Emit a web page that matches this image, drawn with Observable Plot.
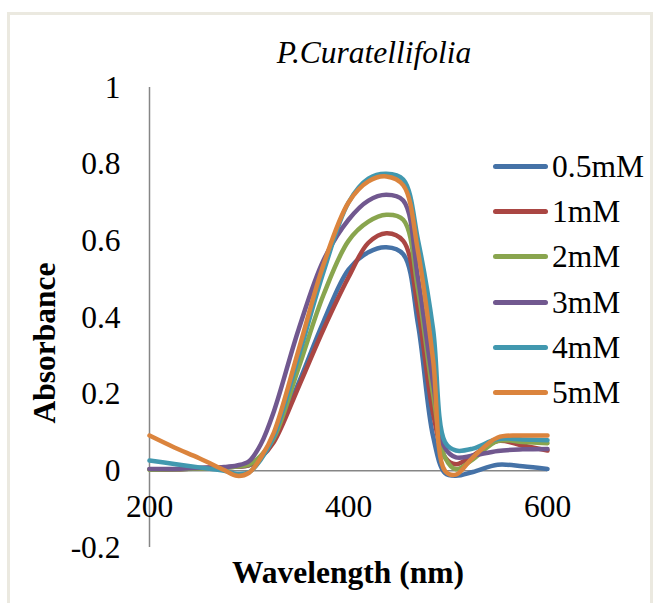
<!DOCTYPE html>
<html>
<head>
<meta charset="utf-8">
<script src="https://cdn.jsdelivr.net/npm/d3@7"></script>
<script src="https://cdn.jsdelivr.net/npm/@observablehq/plot@0.6"></script>
<style>
  html, body { margin: 0; padding: 0; background: #ffffff; }
  #wrap { position: relative; width: 660px; height: 603px; overflow: hidden; font-family: "Liberation Serif", "Times New Roman", serif; color: #000; }
  #frame { position: absolute; left: 7px; top: 12px; width: 646px; height: 596px; border: 3px solid #ebe9e0; box-sizing: border-box; }
  #chart { position: absolute; left: 0; top: 0; }
  .t { position: absolute; font-size: 31.5px; white-space: nowrap; line-height: 1; }
  #title { left: 374px; top: 37px; transform: translateX(-50%); font-style: italic; }
  #xlabel { left: 348px; top: 557px; transform: translateX(-50%); font-weight: bold; }
  #ylabel { left: 45px; top: 343px; transform: translate(-50%, -50%) rotate(-90deg); font-weight: bold; }
  #legend { position: absolute; left: 493px; top: 151px; }
  .row { position: absolute; left: 0; height: 31px; width: 170px; }
  .sw { position: absolute; left: 0; top: 13px; width: 55px; height: 5px; border-radius: 3px; }
  .lb { position: absolute; left: 59px; top: 0; font-size: 31.5px; line-height: 31px; white-space: nowrap; }
</style>
</head>
<body>
<div id="wrap">
  <div id="frame"></div>
  <div id="chart"></div>
  <div id="title" class="t">P.Curatellifolia</div>
  <div id="xlabel" class="t">Wavelength (nm)</div>
  <div id="ylabel" class="t">Absorbance</div>
  <div id="legend"></div>
</div>
<script>
const seriesNames = ["0.5mM", "1mM", "2mM", "3mM", "4mM", "5mM"];
const seriesColors = ["#4572A7", "#AA4643", "#89A54E", "#71588F", "#4198AF", "#DB843D"];
const wavelengths = [200, 225, 250, 275, 288, 300, 312, 325, 350, 375, 400, 420, 438, 455, 470, 485, 497, 508, 525, 550, 575, 600];

const abs05 = [0.004, 0.004, 0.007, 0.009, 0.011, 0.014, 0.035, 0.08, 0.23, 0.39, 0.525, 0.57, 0.583, 0.565, 0.38, 0.09, -0.006, -0.013, -0.003, 0.016, 0.012, 0.005];
const abs1  = [0.004, 0.004, 0.007, 0.009, 0.011, 0.015, 0.035, 0.075, 0.22, 0.37, 0.505, 0.595, 0.62, 0.60, 0.42, 0.15, 0.035, 0.017, 0.04, 0.078, 0.066, 0.053];
const abs2  = [0.003, 0.004, 0.006, 0.008, 0.011, 0.016, 0.04, 0.085, 0.27, 0.46, 0.60, 0.65, 0.668, 0.655, 0.47, 0.2, 0.035, 0.004, 0.03, 0.078, 0.075, 0.072];
const abs3  = [0.005, 0.005, 0.008, 0.01, 0.014, 0.025, 0.07, 0.155, 0.37, 0.55, 0.655, 0.705, 0.72, 0.705, 0.50, 0.23, 0.06, 0.035, 0.04, 0.052, 0.056, 0.057];
const abs4  = [0.027, 0.018, 0.009, 0.0, -0.008, -0.004, 0.03, 0.09, 0.30, 0.52, 0.70, 0.762, 0.775, 0.76, 0.60, 0.37, 0.075, 0.053, 0.058, 0.083, 0.082, 0.08];
const abs5  = [0.092, 0.061, 0.033, 0.002, -0.013, -0.005, 0.035, 0.10, 0.317, 0.539, 0.70, 0.755, 0.768, 0.745, 0.57, 0.29, 0.0, -0.010, 0.035, 0.087, 0.092, 0.092];

const xTicks = [200, 400, 600];
const yTicks = [-0.2, 0, 0.2, 0.4, 0.6, 0.8, 1];
const yTickLabels = ["-0.2", "0", "0.2", "0.4", "0.6", "0.8", "1"];

const allSeries = [abs05, abs1, abs2, abs3, abs4, abs5];
const rows = [];
allSeries.forEach((vals, i) => {
  vals.forEach((v, j) => rows.push({ series: seriesNames[i], wavelength: wavelengths[j], absorbance: v }));
});

const chart = Plot.plot({
  width: 660,
  height: 603,
  marginLeft: 149,
  marginRight: 113,
  marginTop: 87,
  marginBottom: 56,
  style: { fontFamily: "'Liberation Serif', 'Times New Roman', serif", background: "transparent", overflow: "visible" },
  x: { domain: [200, 600], axis: null },
  y: { domain: [-0.2, 1], axis: null },
  color: { domain: seriesNames, range: seriesColors },
  marks: [
    Plot.ruleX([200], { y1: -0.2, y2: 1, stroke: "#868686", strokeWidth: 1.5 }),
    Plot.ruleY([0], { x1: 200, x2: 600, stroke: "#868686", strokeWidth: 1.5 }),
    Plot.line(rows, {
      x: "wavelength", y: "absorbance", z: "series", stroke: "series",
      curve: "catmull-rom", strokeWidth: 4.5, strokeLinecap: "round", strokeLinejoin: "round"
    }),
    Plot.text(yTicks, {
      x: 200, y: d => d, text: (d, i) => yTickLabels[i],
      dx: -29, textAnchor: "end", fontSize: 31.5, fill: "#000"
    }),
    Plot.text(xTicks, {
      x: d => d, y: 0, text: d => String(d), dy: 36,
      textAnchor: "middle", fontSize: 31.5, fill: "#000"
    })
  ]
});
document.getElementById("chart").appendChild(chart);

const legend = document.getElementById("legend");
seriesNames.forEach((name, i) => {
  const row = document.createElement("div");
  row.className = "row";
  row.style.top = (i * 45.2) + "px";
  row.innerHTML = `<div class="sw" style="background:${seriesColors[i]}"></div><div class="lb">${name}</div>`;
  legend.appendChild(row);
});
</script>
</body>
</html>
